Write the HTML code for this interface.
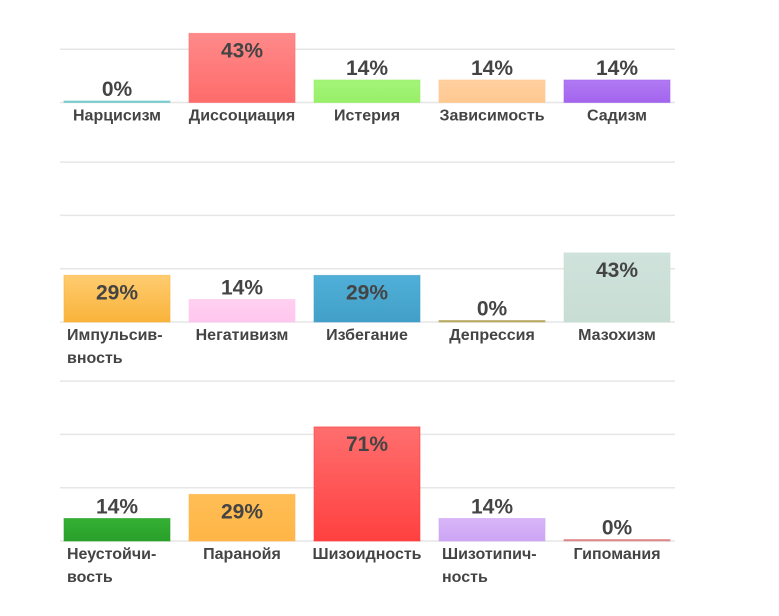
<!DOCTYPE html>
<html><head><meta charset="utf-8"><style>
html,body{margin:0;padding:0;background:#fff;}
svg{display:block;font-family:"Liberation Sans","DejaVu Sans",sans-serif;}
</style></head><body>
<svg id="chart" width="779" height="616" viewBox="0 0 779 616" xmlns="http://www.w3.org/2000/svg">
<defs></defs>
</svg>
<script>
const categories = [
  ["Нарцисизм","Диссоциация","Истерия","Зависимость","Садизм"],
  [["Импульсив-","вность"],"Негативизм","Избегание","Депрессия","Мазохизм"],
  [["Неустойчи-","вость"],"Паранойя","Шизоидность",["Шизотипич-","ность"],"Гипомания"]
];
const valuesRow1 = [0,43,14,14,14];
const valuesRow2 = [29,14,29,0,43];
const valuesRow3 = [14,29,71,14,0];
const values = [valuesRow1, valuesRow2, valuesRow3];
const colors = [
  [["#77cccc","#77cccc"],["#ff8a8a","#ff6b6b"],["#a3f57a","#98ef68"],["#ffd0a0","#ffc890"],["#b07af2","#a364ee"]],
  [["#ffcc70","#f9b33a"],["#ffd0f0","#ffc6ee"],["#50afd8","#42a0c8"],["#b8a860","#b8a860"],["#cfe3dc","#c8ddd4"]],
  [["#34b034","#2aa02a"],["#ffbe55","#ffb547"],["#ff6e6e","#ff4040"],["#d8b6f8","#cda5f4"],["#dd8888","#dd8888"]]
];
const svg = document.getElementById('chart');
const NS = "http://www.w3.org/2000/svg";
const baselines = [102.5, 322, 541];
const pxPerPct = 1.607;
const gridStep = 53.3;
const x0 = 60, x1 = 675;
function yScale(row, v){ return baselines[row] - v*pxPerPct; }
function xBar(i){ return 64 + i*125; }
const barW = 106;
function mk(tag, attrs){ const e=document.createElementNS(NS,tag); for(const k in attrs) e.setAttribute(k, attrs[k]); svg.appendChild(e); return e; }
const defs = svg.querySelector('defs');
for (let r=0;r<3;r++){
  for (let g=0; g<4; g++){
    const y = baselines[r] - g*gridStep;
    if (y < 0) continue;
    const l = mk('line',{x1:x0,x2:x1,y1:y,y2:y,stroke:"#e6e6e6","stroke-width":1.5});
    
    
  }
}
for (let r=0;r<3;r++){
  for (let i=0;i<5;i++){
    const v = values[r][i];
    const gid = 'g'+r+'_'+i;
    const lg = document.createElementNS(NS,'linearGradient');
    lg.setAttribute('id',gid); lg.setAttribute('x1','0'); lg.setAttribute('y1','0'); lg.setAttribute('x2','0'); lg.setAttribute('y2','1');
    const s1=document.createElementNS(NS,'stop'); s1.setAttribute('offset','0'); s1.setAttribute('stop-color',colors[r][i][0]);
    const s2=document.createElementNS(NS,'stop'); s2.setAttribute('offset','1'); s2.setAttribute('stop-color',colors[r][i][1]);
    lg.appendChild(s1); lg.appendChild(s2); defs.appendChild(lg);
    const top = yScale(r, v);
    const h = Math.max(baselines[r]-top, 1.5);
    const x = xBar(i);
    const bar = mk('rect',{x:x,y:baselines[r]-h,width:barW,height:h,fill:'url(#'+gid+')',stroke:colors[r][i][1],'stroke-opacity':0.6,'stroke-width':1});
    
    
    const cx = x + barW/2;
    const inside = h > 40;
    const ly = inside ? top + 24 : baselines[r] - h - 5;
    const t = mk('text',{x:cx,y:ly,'text-anchor':'middle','font-size':21,'font-weight':'bold',fill:'#444'});
    t.textContent = v + '%';
    
    
    const cat = categories[r][i];
    const lines = Array.isArray(cat) ? cat : [cat];
    lines.forEach((ln, k) => {
      const ct = mk('text',{x: lines.length>1 ? x+3 : cx, y: baselines[r]+18+k*23,'text-anchor': lines.length>1 ? 'start':'middle','font-size':16,'font-weight':'bold',fill:'#444'});
      ct.textContent = ln;
      
      
    });
  }
}
</script>
</body></html>
